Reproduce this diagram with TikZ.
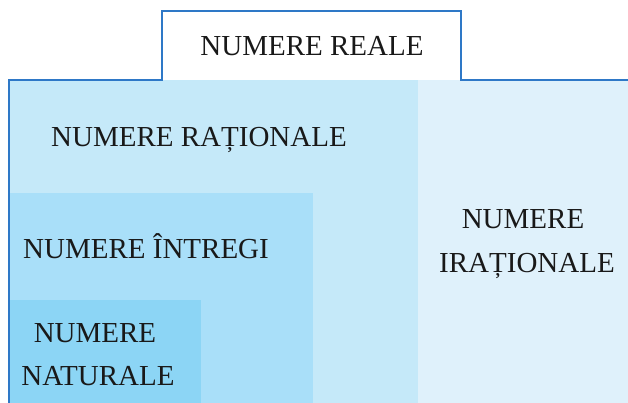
\documentclass[tikz,border=0pt]{standalone}
\usepackage{fontspec}
\setmainfont{Liberation Serif}
\definecolor{edge}{HTML}{2E78C7}
\definecolor{ratc}{HTML}{C5E9F9}
\definecolor{irrc}{HTML}{DFF1FB}
\definecolor{intc}{HTML}{A9DFF9}
\definecolor{natc}{HTML}{8CD5F5}
\tikzset{lbl/.style={anchor=base, inner sep=0pt, font=\fontsize{29}{35}\selectfont, text=black!90}}
\begin{document}
\begin{tikzpicture}[x=1pt,y=-1pt]
\useasboundingbox (0,0) rectangle (628,403);
\fill[ratc] (9,80) rectangle (418,403);
\fill[irrc] (418,80) rectangle (628,403);
\fill[intc] (9,193) rectangle (313,403);
\fill[natc] (9,300) rectangle (201,403);
\draw[edge, line width=1.3pt] (9,403) -- (9,80) -- (162,80) -- (162,11) -- (461,11) -- (461,80) -- (628,80);
\node[lbl] (real) at (312,56) {NUMERE REALE};
\node[lbl] (rat) at (199,147) {NUMERE RAȚIONALE};
\node[lbl] (int) at (146,258) {NUMERE ÎNTREGI};
\node[lbl] (nat1) at (95,342) {NUMERE};
\node[lbl] (nat2) at (98,385) {NATURALE};
\node[lbl] (irr1) at (523,228) {NUMERE};
\node[lbl] (irr2) at (527,272) {IRAȚIONALE};
\end{tikzpicture}
\end{document}
